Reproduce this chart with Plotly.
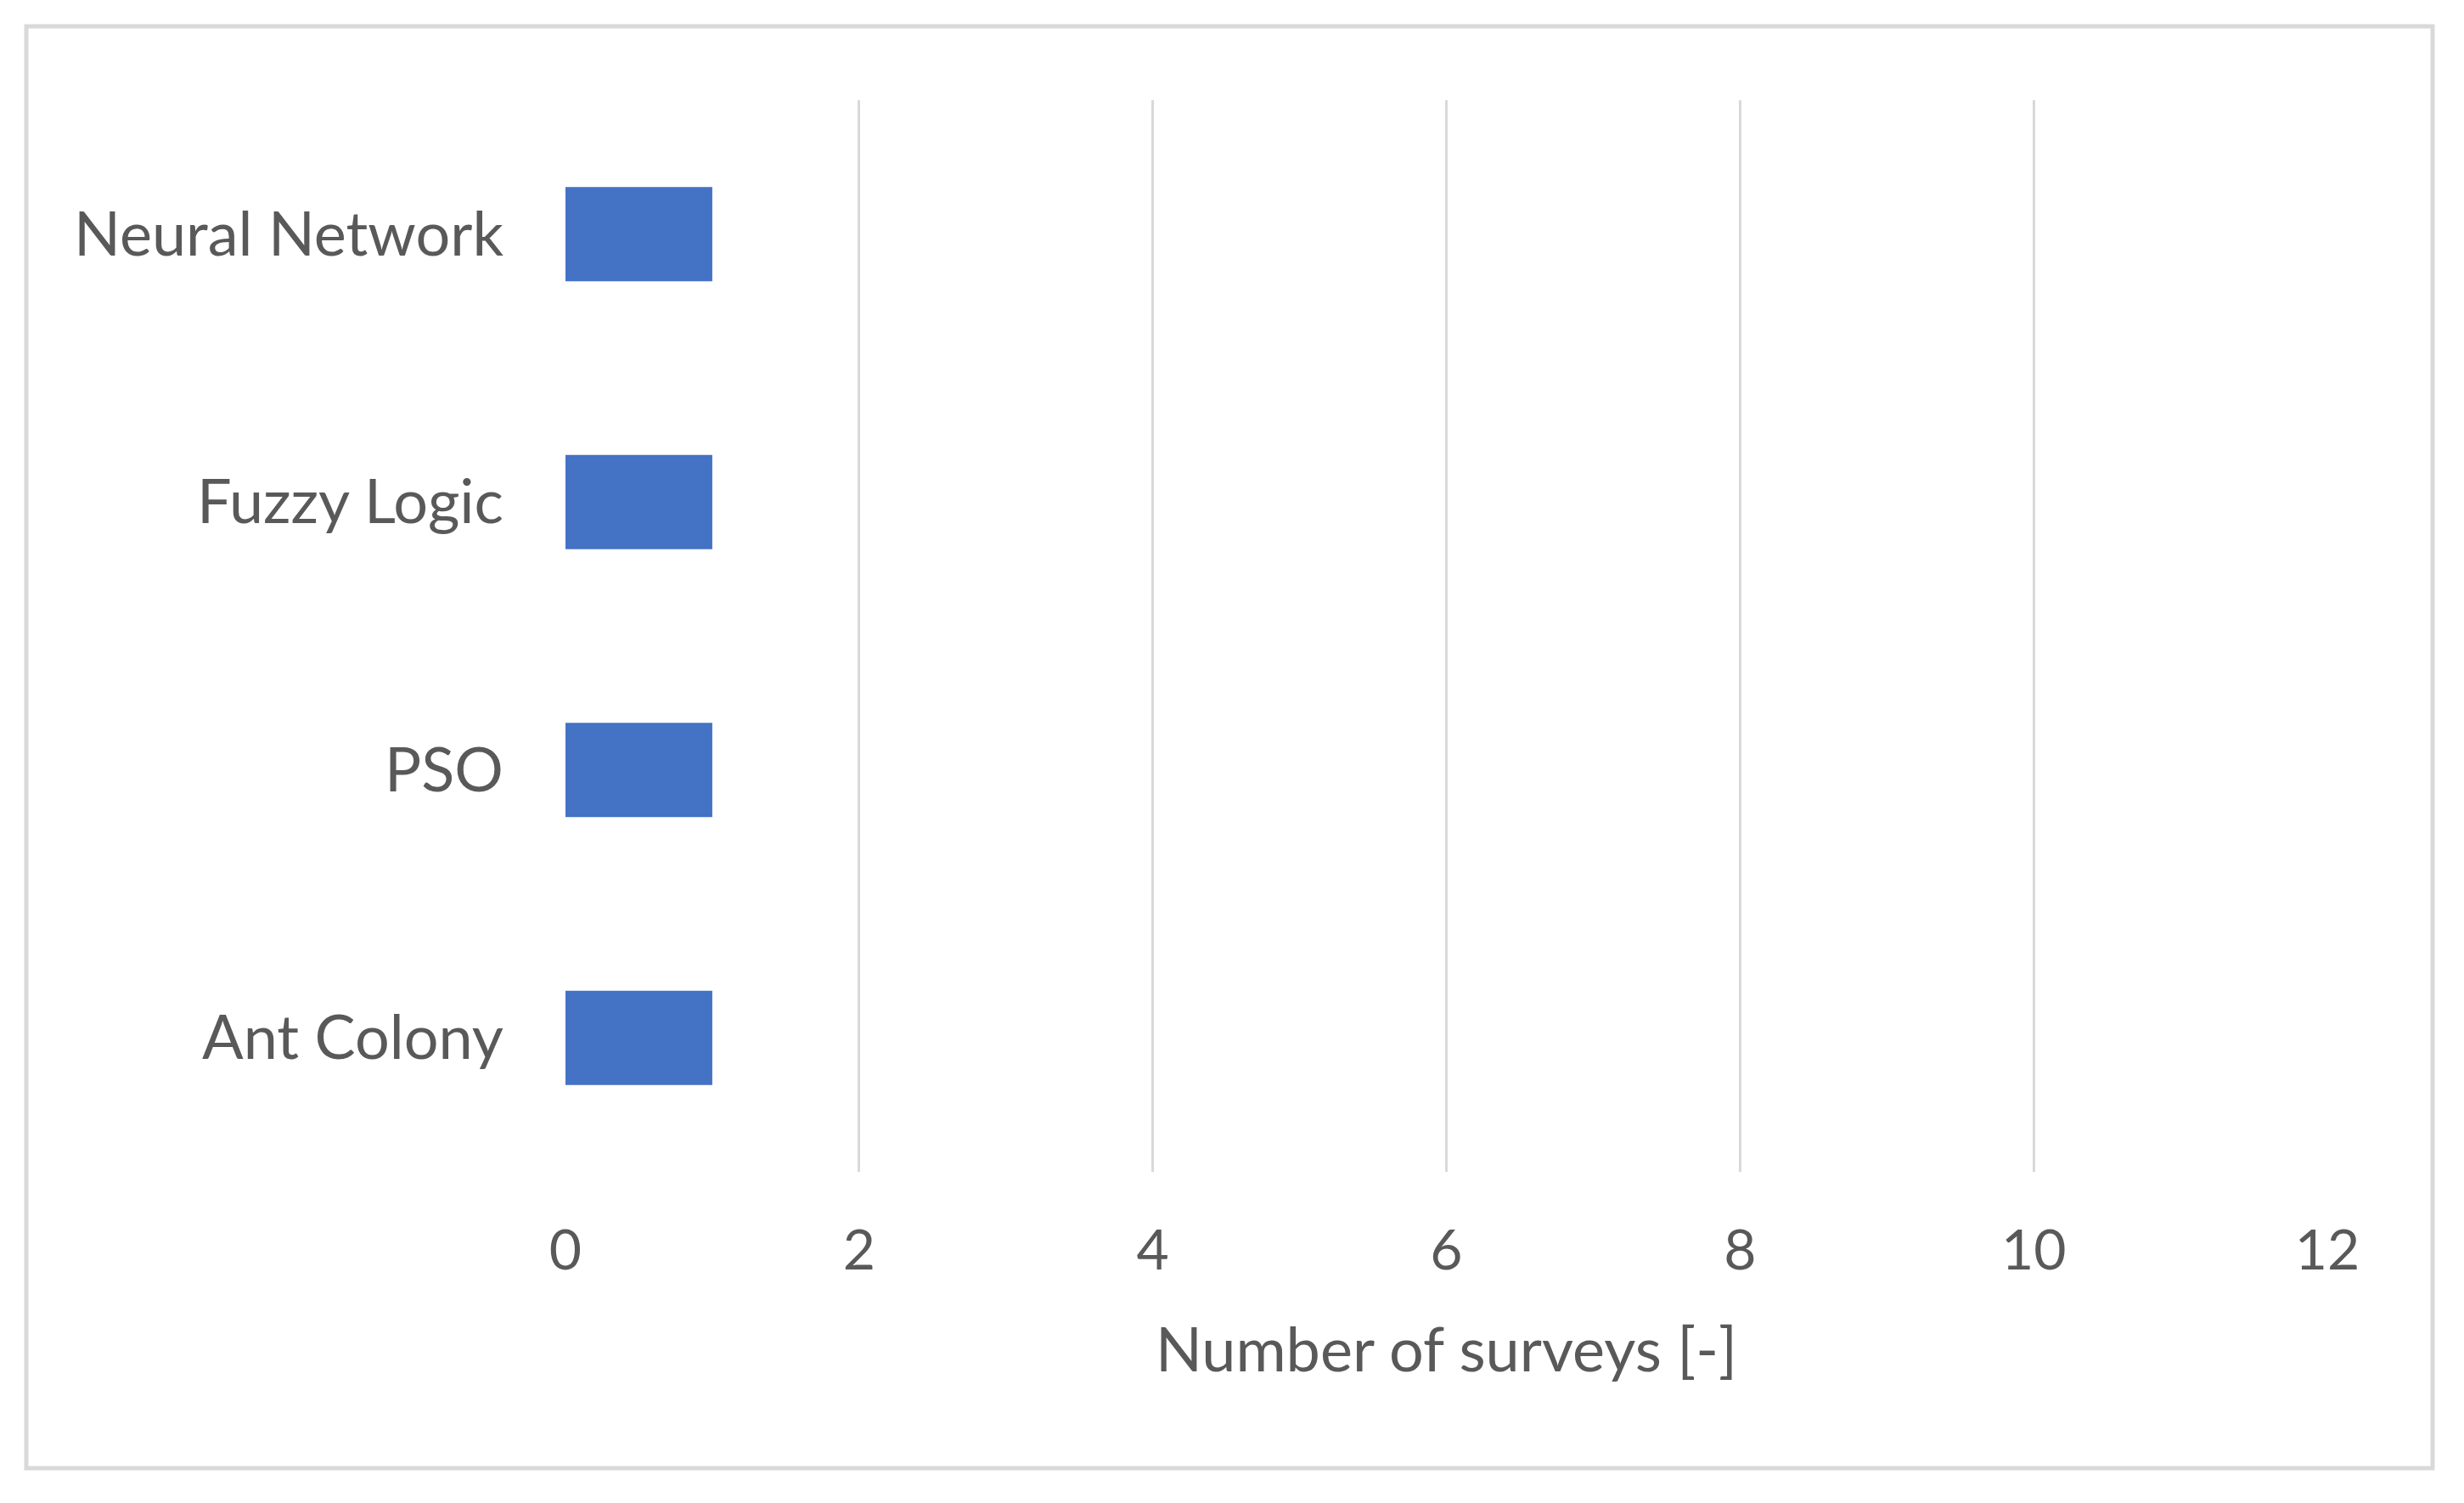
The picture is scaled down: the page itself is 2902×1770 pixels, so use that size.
import plotly.graph_objects as go

categories = ["Ant Colony", "PSO", "Fuzzy Logic", "Neural Network"]
values = [1, 1, 1, 1]
x_ticks = [0, 2, 4, 6, 8, 10, 12]
x_title = "Number of surveys [-]"

W, H = 2902, 1770
ml, mr, mt, mb = 658, 169, 110, 398
pw = W - ml - mr
ph = H - mt - mb

def px_x(p):
    return (p - ml) / pw

def px_y(p):
    return (H - mb - p) / ph

font_family = "Lato, 'Open Sans', sans-serif"
text_color = "#595959"

fig = go.Figure(
    go.Bar(
        x=values,
        y=categories,
        orientation="h",
        marker=dict(color="#4472C4", line=dict(width=0)),
    )
)

fig.update_layout(
    width=W,
    height=H,
    margin=dict(l=ml, r=mr, t=mt, b=mb),
    paper_bgcolor="white",
    plot_bgcolor="white",
    bargap=0.648,
    showlegend=False,
    font=dict(family=font_family, size=70, color=text_color),
    shapes=[
        dict(
            type="rect",
            xref="paper",
            yref="paper",
            x0=px_x(23),
            x1=px_x(2857),
            y0=px_y(1721),
            y1=px_y(23),
            line=dict(color="#d9d9d9", width=5),
            fillcolor="rgba(0,0,0,0)",
            layer="below",
        )
    ],
)

fig.update_xaxes(
    range=[0, 12],
    tickvals=x_ticks,
    ticktext=[str(t) for t in x_ticks],
    showgrid=True,
    gridcolor="#d9d9d9",
    gridwidth=3,
    zeroline=False,
    showline=False,
    ticks="",
    tickfont=dict(family=font_family, size=66, color=text_color),
    ticklabelstandoff=48,
    title=dict(
        text=x_title,
        font=dict(family=font_family, size=72, color=text_color),
        standoff=56,
    ),
)

fig.update_yaxes(
    categoryorder="array",
    categoryarray=categories,
    showgrid=False,
    zeroline=False,
    showline=False,
    ticks="",
    tickfont=dict(family=font_family, size=72, color=text_color),
    ticklabelstandoff=72,
)

fig.write_html("out.html")
